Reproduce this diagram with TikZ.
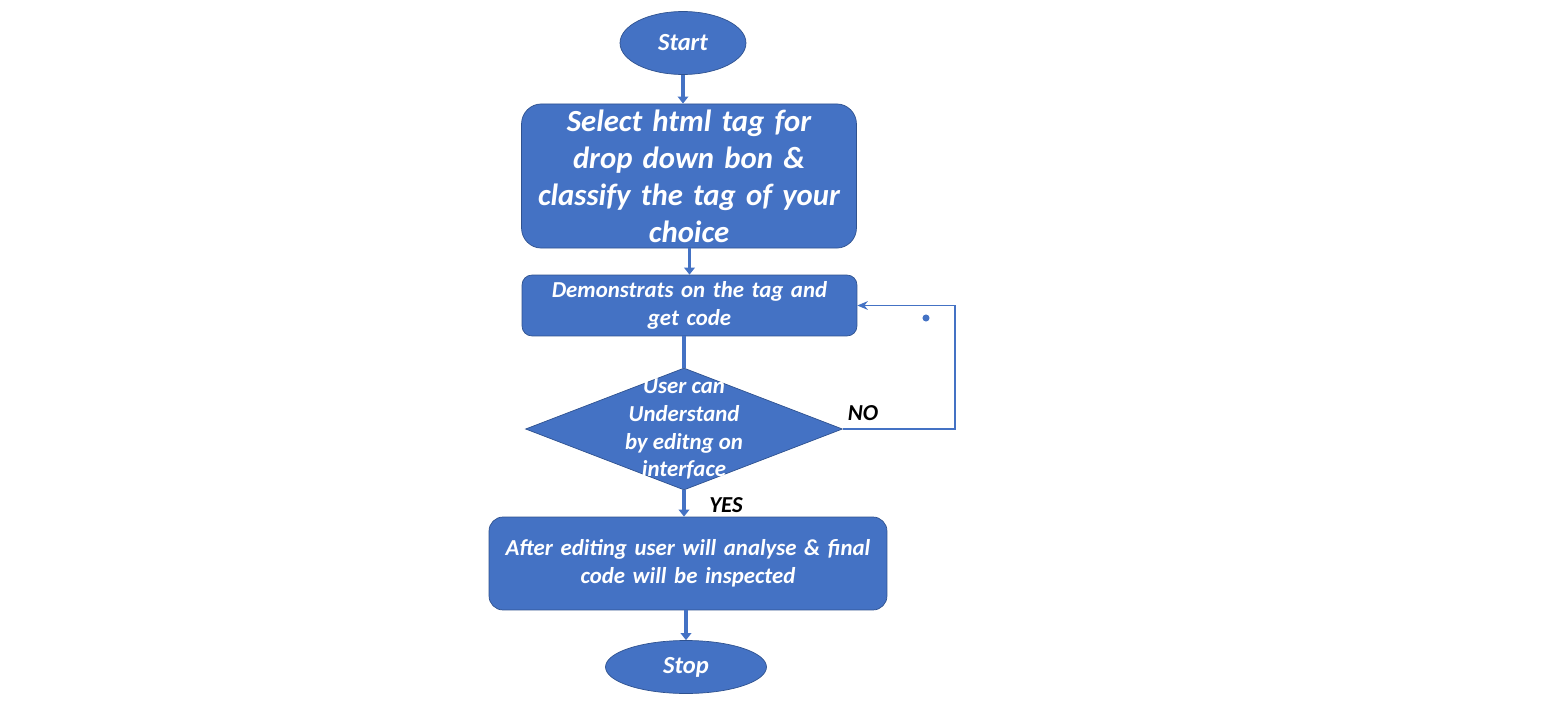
\documentclass[tikz,border=0pt]{standalone}
\usepackage{fontspec}
\setmainfont{Carlito}
\usetikzlibrary{arrows.meta, shapes.geometric}

\definecolor{boxblue}{HTML}{4472C4}
\definecolor{edgeblue}{HTML}{2F528F}

\tikzset{
    terminal/.style={ellipse, draw=edgeblue, fill=boxblue, text=white, font=\fontsize{14}{17}\selectfont\bfseries\itshape},
    process/.style={rectangle, draw=edgeblue, fill=boxblue, text=white, align=center},
    decision/.style={diamond, draw=edgeblue, fill=boxblue, inner sep=0pt},
    flowline/.style={-{Triangle[length=4pt, width=6pt]}, line width=2.2pt, boxblue},
    loopline/.style={-{Stealth[length=6pt, width=5pt]}, line width=0.8pt, boxblue},
    answer/.style={font=\fontsize{13}{15}\selectfont\bfseries\itshape, text=black}
}

\begin{document}
\begin{tikzpicture}[x=0.02cm, y=-0.02cm]

    \useasboundingbox (0,0) rectangle (1560,710);

    % Inicio e fim
    \node[terminal, minimum width=2.52cm, minimum height=1.26cm] (start) at (683, 43) {Start};
    \node[terminal, minimum width=3.22cm, minimum height=1.06cm] (stop) at (686, 667) {Stop};

    % Caixas de processo
    \node[process, rounded corners=0.4cm, minimum width=6.7cm, minimum height=2.76cm,
          text width=6.4cm, font=\fontsize{17.5}{21}\selectfont\bfseries\itshape] (select) at (689, 176)
          {Select html tag for\\ drop down bon \&\\ classify the tag of your\\ choice};
    \node[process, rounded corners=0.2cm, minimum width=6.7cm, minimum height=1.22cm,
          text width=6.4cm, font=\fontsize{13}{15.9}\selectfont\bfseries\itshape] (demo) at (689.5, 305.5)
          {Demonstrats on the tag and\\ get code};
    \node[process, rounded corners=0.28cm, minimum width=7.96cm, minimum height=1.86cm,
          text width=7.6cm, font=\fontsize{13}{15.9}\selectfont\bfseries\itshape] (final) at (688, 563.5)
          {After editing user will analyse \& final\\ code will be inspected};

    % Decisao
    \node[decision, minimum width=6.34cm, minimum height=2.44cm] (check) at (684, 429) {};
    \node[text=white, align=center, font=\fontsize{13}{15.9}\selectfont\bfseries\itshape] (checktext) at (684, 429)
          {User can\\ Understand\\ by editng on\\ interface};

    % Ligacoes principais
    \draw[flowline] (start) -- (select.north -| start);
    \draw[flowline] (select.south -| demo) -- (demo);
    \draw[line width=2.2pt, boxblue] (demo.south -| check) -- (check.north);
    \draw[flowline] (check.south) -- (final.north -| check);
    \draw[flowline] (final.south -| stop) -- (stop);

    % Retorno (NO)
    \coordinate (loopcorner) at (955, 429);
    \draw[loopline] (check.east) -- (loopcorner) |- (demo.east);
    \fill[boxblue] (926, 318) circle (2pt);

    % Etiquetas
    \node[answer] (no) at (863, 413) {NO};
    \node[answer] (yes) at (726, 505) {YES};

\end{tikzpicture}
\end{document}
